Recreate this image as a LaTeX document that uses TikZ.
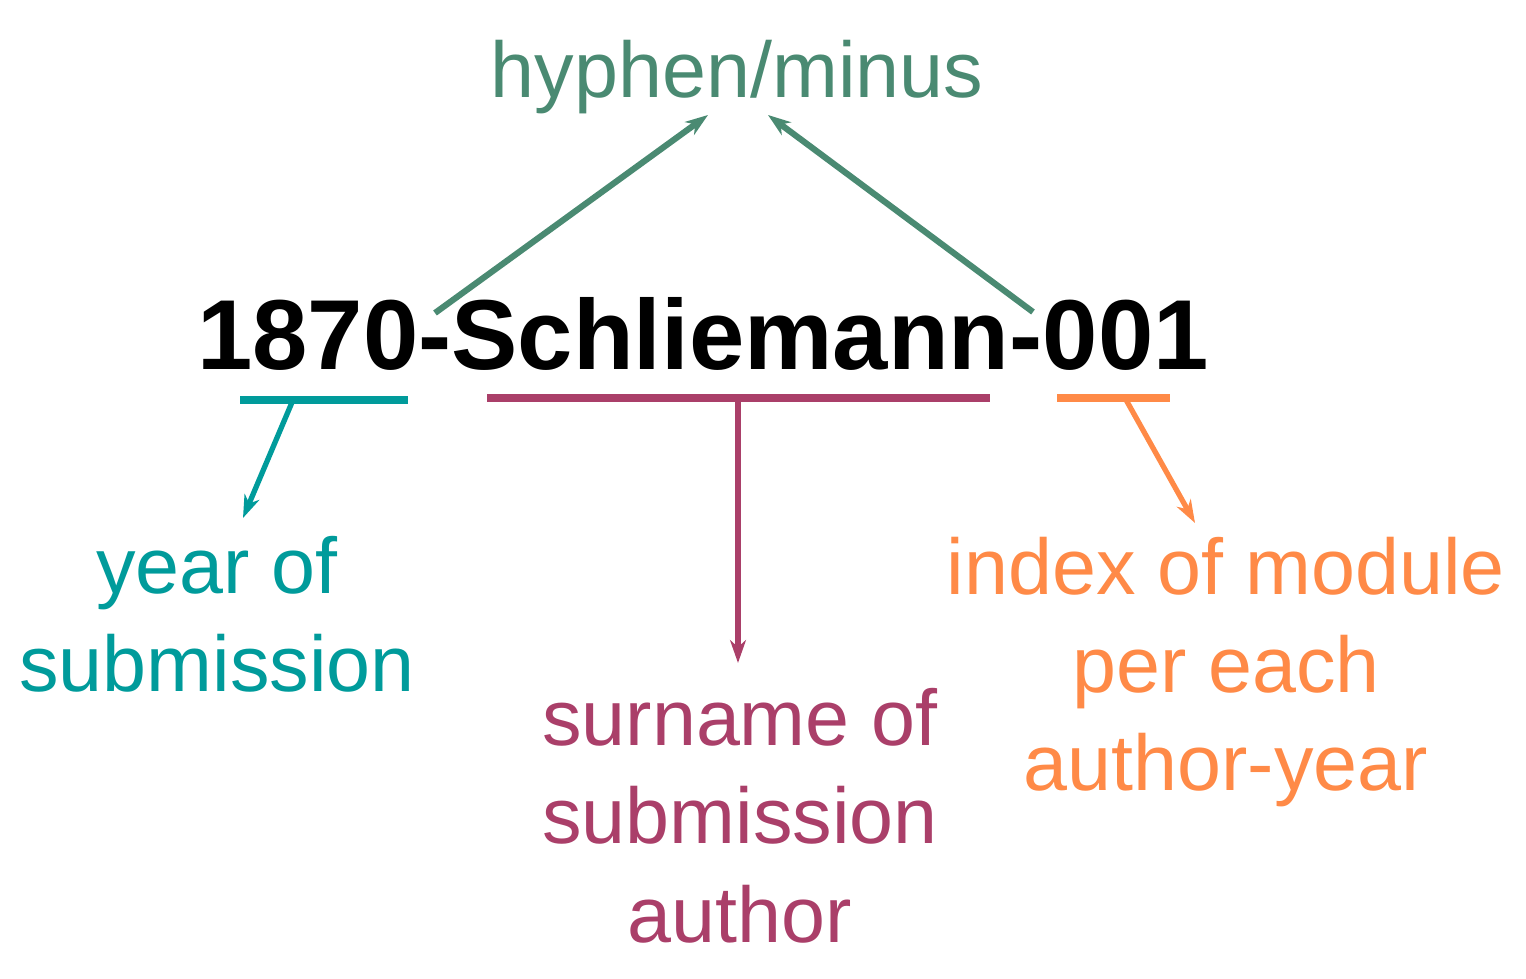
\documentclass[tikz,border=0pt]{standalone}
\usepackage{fontspec}
\setmainfont{Liberation Sans}
\usetikzlibrary{arrows.meta}
\definecolor{teal}{HTML}{009B9B}
\definecolor{plum}{HTML}{AA3F69}
\definecolor{orng}{HTML}{FF8A47}
\definecolor{grn}{HTML}{4A8A72}

\begin{document}
\begin{tikzpicture}[line cap=butt,line join=round,>={Stealth[length=13pt,width=9pt,inset=4pt]},x=0.02cm,y=0.02cm,
  lbl/.style={inner sep=0pt,anchor=base,align=center,font=\fontsize{45}{56}\selectfont},
  uline/.style={line width=4.4pt},
  ptr/.style={->,line width=3pt}]
\useasboundingbox (0,0) rectangle (1526,978);

\node[inner sep=0pt,anchor=base,font=\fontsize{56.6}{68}\selectfont\bfseries] (title) at (703,608) {1870-Schliemann-001};
\node[lbl,text=grn] (hyph) at (737,880) {hyphen/minus};

\coordinate (dashA) at (435,665);
\coordinate (dashB) at (1033,666);
\coordinate (hypA) at (708,863);
\coordinate (hypB) at (768,863);
\draw[ptr,grn,line width=3.5pt] (dashA)-- (hypA);
\draw[ptr,grn,line width=3.5pt] (dashB)-- (hypB);

\draw[uline,teal] (240,578)-- (408,578);
\draw[uline,plum] (487,580)-- (990,580);
\draw[uline,orng] (1057,580)-- (1170,580);

\coordinate (yearS) at (293,578);
\coordinate (nameS) at (738,580);
\coordinate (idxS) at (1125,580);
\coordinate (yearE) at (243,460);
\coordinate (nameE) at (738,315);
\coordinate (idxE) at (1195,455);
\draw[ptr,teal] (yearS)-- (yearE);
\draw[ptr,plum] (nameS)-- (nameE);
\draw[ptr,orng] (idxS)-- (idxE);

% base anchor sits on the last line
\node[lbl,text=teal] (year) at (217,286) {year of\\submission};
\node[lbl,text=plum] (surname) at (740,36) {surname of\\submission\\author};
\node[lbl,text=orng] (idx) at (1226,187) {index of module\\per each\\author-year};
\end{tikzpicture}
\end{document}
